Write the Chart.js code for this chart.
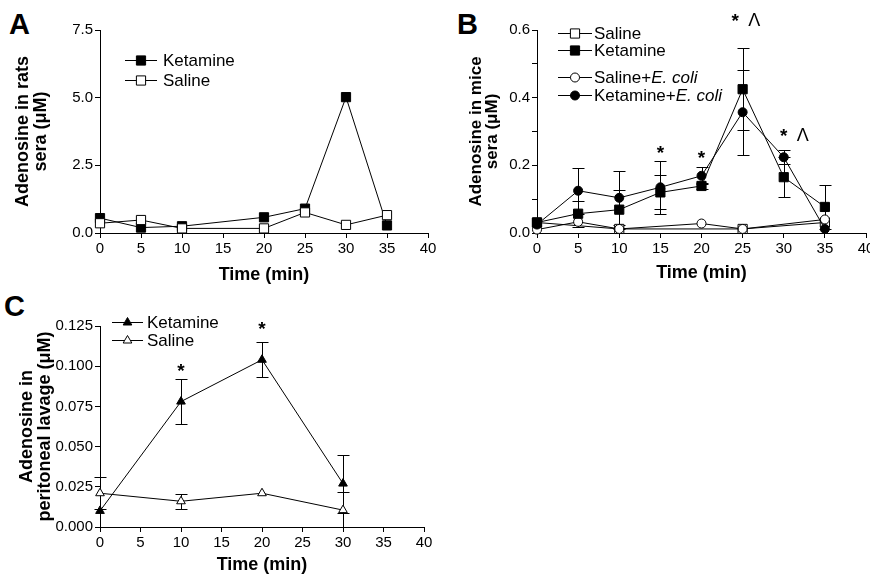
<!DOCTYPE html>
<html>
<head>
<meta charset="utf-8">
<script src="https://cdn.jsdelivr.net/npm/chart.js@4/dist/chart.umd.min.js"></script>
<style>
  html, body { margin: 0; padding: 0; background: #fff; width: 870px; height: 576px; overflow: hidden; }
  canvas { position: absolute; }
  .tag { position: absolute; font: bold 29px "Liberation Sans", Arial, sans-serif; line-height: 1; color: #000; }
</style>
</head>
<body>
<div class="tag" style="left:9px;top:10px">A</div>
<div class="tag" style="left:457px;top:10px">B</div>
<div class="tag" style="left:4px;top:292px">C</div>
<canvas id="chartA" width="440" height="290" style="left:0;top:0"></canvas>
<canvas id="chartB" width="450" height="290" style="left:440px;top:0"></canvas>
<canvas id="chartC" width="440" height="286" style="left:0;top:290px"></canvas>
<script>
// panel A: rats sera
const timeA = [0, 5, 10, 20, 25, 30, 35];
const ketamineA = [0.55, 0.2, 0.25, 0.58, 0.9, 5.02, 0.28];
const salineA = [0.36, 0.48, 0.17, 0.17, 0.76, 0.3, 0.66];

// panel B: mice sera
const timeB = [0, 5, 10, 15, 20, 25, 30, 35];
const ketamineB = [0.031, 0.057, 0.069, 0.12, 0.139, 0.425, 0.165, 0.077];
const ketamineErrB = [null, 0.038, 0.058, 0.05, 0.01, 0.122, 0.06, 0.065];
const ketamineEcoliB = [0.025, 0.125, 0.104, 0.135, 0.169, 0.357, 0.224, 0.012];
const ketamineEcoliErrB = [null, 0.068, 0.08, 0.078, 0.025, 0.125, 0.02, null];
const salineTimeB = [0, 10, 25, 35];
const salineB = [0.031, 0.012, 0.012, 0.031];
const salineEcoliTimeB = [0, 5, 10, 20, 25, 35];
const salineEcoliB = [0.01, 0.033, 0.012, 0.028, 0.012, 0.04];

// panel C: peritoneal lavage
const timeC = [0, 10, 20, 30];
const ketamineC = [0.01, 0.078, 0.104, 0.027];
const ketamineErrC = [null, 0.014, 0.011, 0.018];
const salineC = [0.021, 0.016, 0.021, 0.0105];
const salineErrC = [0.01, 0.0047, null, 0.011];

const FONT = '"Liberation Sans", Arial, sans-serif';
const pts = (xs, ys) => xs.map((x, i) => ({ x, y: ys[i] }));

function drawMarker(ctx, style, x, y, r, filled) {
  ctx.beginPath();
  if (style === 'rect') {
    const s = Math.SQRT1_2 * r;
    ctx.rect(x - s, y - s, 2 * s, 2 * s);
  } else if (style === 'triangle') {
    ctx.moveTo(x, y - r);
    ctx.lineTo(x + r * 0.866, y + r * 0.5);
    ctx.lineTo(x - r * 0.866, y + r * 0.5);
    ctx.closePath();
  } else {
    ctx.arc(x, y, r, 0, Math.PI * 2);
  }
  ctx.fillStyle = filled ? '#000' : '#fff';
  ctx.fill();
  ctx.stroke();
}

const extras = {
  id: 'extras',
  beforeDatasetsDraw(chart) {
    const { ctx, scales: { x, y } } = chart;
    ctx.save();
    ctx.strokeStyle = '#000';
    ctx.lineWidth = 1;
    chart.data.datasets.forEach((ds) => {
      if (!ds.errors) return;
      ds.data.forEach((p, i) => {
        const e = ds.errors[i];
        if (e == null) return;
        const px = Math.round(x.getPixelForValue(p.x)) + 0.5;
        const top = Math.round(y.getPixelForValue(p.y + e)) + 0.5;
        const bot = Math.round(y.getPixelForValue(Math.max(p.y - e, 0))) + 0.5;
        ctx.beginPath();
        ctx.moveTo(px, top); ctx.lineTo(px, bot);
        ctx.moveTo(px - 6, top); ctx.lineTo(px + 6, top);
        ctx.moveTo(px - 6, bot); ctx.lineTo(px + 6, bot);
        ctx.stroke();
      });
    });
    ctx.restore();
  },
  afterDraw(chart, args, opts) {
    const { ctx, scales: { x, y } } = chart;
    ctx.save();
    ctx.strokeStyle = '#000';
    ctx.lineWidth = 1;
    ctx.textBaseline = 'middle';
    // legend
    (opts.legend || []).forEach((it, i) => {
      const ly = opts.rows[i] + 0.5;
      ctx.beginPath();
      ctx.moveTo(opts.x1, ly); ctx.lineTo(opts.x2, ly);
      ctx.stroke();
      drawMarker(ctx, it.style, (opts.x1 + opts.x2) / 2, ly, it.r, it.filled);
      let tx = opts.tx;
      ctx.fillStyle = '#000';
      ctx.textAlign = 'left';
      it.parts.forEach((pt) => {
        ctx.font = (pt.italic ? 'italic ' : '') + '17px ' + FONT;
        ctx.fillText(pt.t, tx, ly + 1);
        tx += ctx.measureText(pt.t).width;
      });
    });
    // significance marks: star, then optional caret to its right
    ctx.textAlign = 'center';
    (opts.notes || []).forEach((n) => {
      const px = x.getPixelForValue(n.x);
      const py = y.getPixelForValue(n.y);
      ctx.font = 'bold 19px ' + FONT;
      ctx.fillText('*', px, py);
      if (n.caret) {
        ctx.font = '18px ' + FONT;
        ctx.fillText('\u039b', px + 19, py - 1);
      }
    });
    ctx.restore();
  }
};

function axes(cfg) {
  const tickFont = { family: FONT, size: 15 };
  const titleFont = { family: FONT, size: cfg.titleSize || 18, weight: 'bold', lineHeight: cfg.titleLH || 1 };
  return {
    x: {
      type: 'linear', min: 0, max: 40,
      ticks: { stepSize: 5, color: '#000', font: tickFont, padding: 2, maxRotation: 0 },
      grid: { drawOnChartArea: false, tickLength: 5, color: '#000' },
      border: { color: '#000' },
      title: { display: true, text: 'Time (min)', color: '#000', font: { family: FONT, size: 18, weight: 'bold', lineHeight: 1 }, padding: { top: 0, bottom: cfg.xTitlePad } },
      afterFit(s) { s.height = cfg.xH; }
    },
    y: {
      type: 'linear', min: 0, max: cfg.yMax,
      ticks: { stepSize: cfg.step, color: '#000', font: tickFont, padding: 2, callback: cfg.fmt },
      grid: { drawOnChartArea: false, tickLength: 5, color: '#000' },
      border: { color: '#000' },
      title: { display: true, text: cfg.yTitle, color: '#000', font: titleFont, padding: { top: cfg.yTitlePad, bottom: 0 } },
      afterFit(s) { s.width = cfg.yW; }
    }
  };
}

function line(data, style, r, filled, errors) {
  return {
    data, errors,
    borderColor: '#000', borderWidth: 1,
    pointStyle: style, pointRadius: r, pointHoverRadius: r,
    pointBackgroundColor: filled ? '#000' : '#fff', pointBorderColor: '#000', pointBorderWidth: 1,
    tension: 0, clip: false, fill: false
  };
}

const base = (padding, scales, extrasOpts) => ({
  responsive: false, animation: false, events: [],
  layout: { padding },
  scales,
  plugins: { legend: { display: false }, tooltip: { enabled: false }, extras: extrasOpts }
});

new Chart(document.getElementById('chartA'), {
  type: 'line',
  data: { datasets: [
    line(pts(timeA, salineA), 'rect', 6.5, false),
    line(pts(timeA, ketamineA), 'rect', 6.5, true)
  ] },
  options: base({ top: 30, right: 12, left: 0, bottom: 0 },
    axes({ yMax: 7.5, step: 2.5, fmt: (v) => v.toFixed(1), yTitle: ['Adenosine in rats', 'sera (\u03bcM)'], yTitlePad: 14, yW: 100, xH: 57, xTitlePad: 6 }),
    { x1: 125, x2: 157, tx: 163, rows: [60, 80], legend: [
      { style: 'rect', r: 6.5, filled: true, parts: [{ t: 'Ketamine' }] },
      { style: 'rect', r: 6.5, filled: false, parts: [{ t: 'Saline' }] }
    ] }),
  plugins: [extras]
});

new Chart(document.getElementById('chartB'), {
  type: 'line',
  data: { datasets: [
    line(pts(timeB, ketamineEcoliB), 'circle', 4.5, true, ketamineEcoliErrB),
    line(pts(timeB, ketamineB), 'rect', 6.5, true, ketamineErrB),
    line(pts(salineEcoliTimeB, salineEcoliB), 'circle', 4.5, false),
    line(pts(salineTimeB, salineB), 'rect', 6.5, false)
  ] },
  options: base({ top: 30, right: 24, left: 0, bottom: 0 },
    axes({ yMax: 0.6, step: 0.1, fmt: (v) => (Math.round(v * 10) % 2 === 0 ? v.toFixed(1) : ''), yTitle: ['Adenosine in mice', 'sera (\u03bcM)'], yTitlePad: 29, yW: 97, xH: 57, xTitlePad: 8, titleSize: 17, titleLH: 0.9 }),
    { x1: 118, x2: 152, tx: 154, rows: [33, 50, 77, 95], legend: [
      { style: 'rect', r: 6.5, filled: false, parts: [{ t: 'Saline' }] },
      { style: 'rect', r: 6.5, filled: true, parts: [{ t: 'Ketamine' }] },
      { style: 'circle', r: 4.5, filled: false, parts: [{ t: 'Saline+' }, { t: 'E. coli', italic: true }] },
      { style: 'circle', r: 4.5, filled: true, parts: [{ t: 'Ketamine+' }, { t: 'E. coli', italic: true }] }
    ], notes: [
      { x: 24.1, y: 0.625, caret: true },
      { x: 30, y: 0.285, caret: true },
      { x: 15, y: 0.233 },
      { x: 20, y: 0.218 }
    ] }),
  plugins: [extras]
});

new Chart(document.getElementById('chartC'), {
  type: 'line',
  data: { datasets: [
    line(pts(timeC, salineC), 'triangle', 5, false, salineErrC),
    line(pts(timeC, ketamineC), 'triangle', 5, true, ketamineErrC)
  ] },
  options: base({ top: 36, right: 16, left: 0, bottom: 0 },
    axes({ yMax: 0.125, step: 0.025, fmt: (v) => v.toFixed(3), yTitle: ['Adenosine in', 'peritoneal lavage (\u03bcM)'], yTitlePad: 18, yW: 100, xH: 49, xTitlePad: 2 }),
    { x1: 112, x2: 143, tx: 147, rows: [32, 50], legend: [
      { style: 'triangle', r: 5, filled: true, parts: [{ t: 'Ketamine' }] },
      { style: 'triangle', r: 5, filled: false, parts: [{ t: 'Saline' }] }
    ], notes: [
      { x: 10, y: 0.0964 },
      { x: 20, y: 0.1225 }
    ] }),
  plugins: [extras]
});
</script>
</body>
</html>
